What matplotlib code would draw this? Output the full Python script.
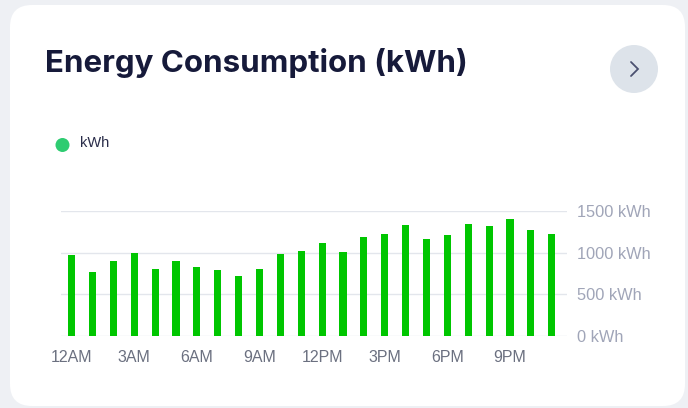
import numpy as np
import matplotlib.pyplot as plt
from matplotlib.patches import FancyBboxPatch, Circle
from matplotlib.lines import Line2D

hours = ['12AM', '1AM', '2AM', '3AM', '4AM', '5AM', '6AM', '7AM', '8AM', '9AM',
         '10AM', '11AM', '12PM', '1PM', '2PM', '3PM', '4PM', '5PM', '6PM', '7PM',
         '8PM', '9PM', '10PM', '11PM']
kwh = [970, 770, 895, 995, 800, 900, 830, 795, 715, 800,
       980, 1020, 1120, 1010, 1190, 1225, 1335, 1170, 1215, 1350,
       1325, 1410, 1270, 1225]
ytick_vals = [0, 500, 1000, 1500]
ytick_labels = ['0 kWh', '500 kWh', '1000 kWh', '1500 kWh']

W, H = 688, 408
fig = plt.figure(figsize=(W / 100, H / 100), dpi=100)
fig.patch.set_facecolor('#eef0f4')

# white card (pixel coords, origin bottom-left)
card = FancyBboxPatch((10, 2), 675, 401,
                      boxstyle='round,pad=0,rounding_size=22',
                      transform=None, facecolor='white',
                      edgecolor='none', zorder=-10)
fig.patches.append(card)

fig.text(45 / W, 1 - 63 / H, 'Energy Consumption (kWh)', fontsize=22.5,
         fontweight='bold', color='#161a3a', family='Inter', va='center')

# round button with chevron
btn = Circle((634, H - 69), 24, transform=None, facecolor='#dde3ea',
             edgecolor='none', zorder=-5)
fig.patches.append(btn)
fig.lines.append(Line2D([631, 638, 631], [H - 62, H - 69, H - 76],
                        transform=None, color='#4a5070', linewidth=1.3,
                        solid_capstyle='round', solid_joinstyle='miter'))

# legend
fig.patches.append(Circle((62.5, H - 145), 7, transform=None,
                          facecolor='#2ecc71', edgecolor='none', zorder=-5))
fig.text(80 / W, 1 - 143 / H, 'kWh', fontsize=10.5, color='#2a2d4a',
         va='center', family='Liberation Sans')

ax = fig.add_axes([61 / W, (H - 336) / H, (567 - 61) / W, (336 - 211) / H])
ax.set_facecolor('none')
x = np.arange(len(hours))
ax.bar(x, kwh, width=0.34, color='#00c600', zorder=3)
ax.set_xlim(-0.51, 23.73)
ax.set_ylim(0, 1500)
ax.set_yticks(ytick_vals)
ax.set_yticklabels(ytick_labels)
ax.yaxis.tick_right()
ax.grid(axis='y', color='#e3e6ec', linewidth=1, zorder=0)
ax.set_xticks(x[::3])
ax.set_xticklabels(hours[::3])
for s in ax.spines.values():
    s.set_visible(False)
ax.tick_params(axis='y', length=0, pad=7, labelsize=11.8, labelcolor='#a0a5b8')
ax.tick_params(axis='x', length=0, pad=10, labelsize=11.5, labelcolor='#6b7080')
for lbl in ax.get_xticklabels() + ax.get_yticklabels():
    lbl.set_family('Liberation Sans')

fig.savefig('out.png', dpi=100, facecolor=fig.get_facecolor())
